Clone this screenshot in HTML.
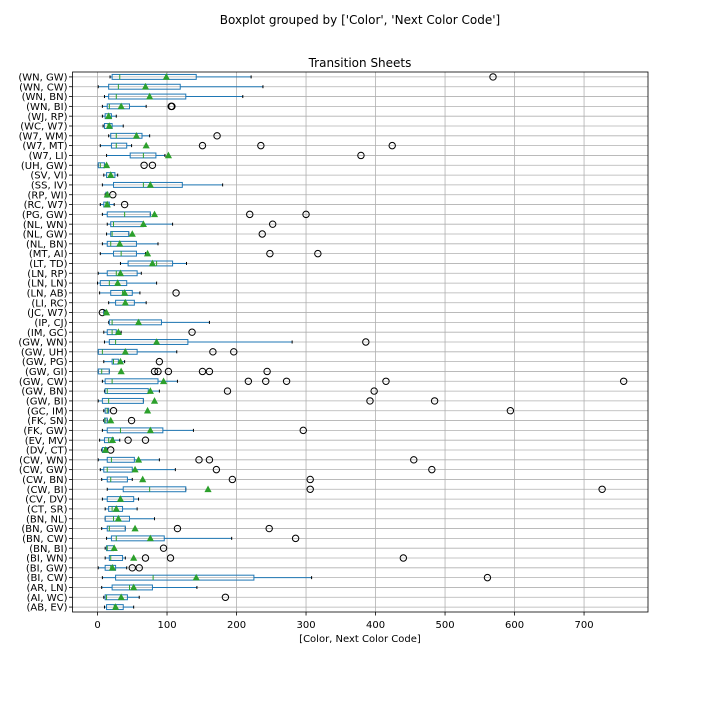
<!DOCTYPE html>
<html><head><meta charset="utf-8"><style>
body{margin:0;background:#fff;font-family:"DejaVu Sans","Liberation Sans",sans-serif}
</style></head><body>
<svg id="chart" width="720" height="720" xmlns="http://www.w3.org/2000/svg" font-family="DejaVu Sans, Liberation Sans, sans-serif">
<rect width="720" height="720" fill="#fff"/>
<text x="360" y="24" text-anchor="middle" font-size="12">Boxplot grouped by ['Color', 'Next Color Code']</text>
<text x="360" y="67" text-anchor="middle" font-size="12">Transition Sheets</text>
<text x="360" y="642" text-anchor="middle" font-size="10">[Color, Next Color Code]</text>
<g id="grid"></g><g id="marks"></g><g id="axes"></g>
</svg>
<script>
const cats=["(WN, GW)","(WN, CW)","(WN, BN)","(WN, BI)","(WJ, RP)","(WC, W7)","(W7, WM)","(W7, MT)","(W7, LI)","(UH, GW)","(SV, VI)","(SS, IV)","(RP, WI)","(RC, W7)","(PG, GW)","(NL, WN)","(NL, GW)","(NL, BN)","(MT, AI)","(LT, TD)","(LN, RP)","(LN, LN)","(LN, AB)","(LI, RC)","(JC, W7)","(IP, CJ)","(IM, GC)","(GW, WN)","(GW, UH)","(GW, PG)","(GW, GI)","(GW, CW)","(GW, BN)","(GW, BI)","(GC, IM)","(FK, SN)","(FK, GW)","(EV, MV)","(DV, CT)","(CW, WN)","(CW, GW)","(CW, BN)","(CW, BI)","(CV, DV)","(CT, SR)","(BN, NL)","(BN, GW)","(BN, CW)","(BN, BI)","(BI, WN)","(BI, GW)","(BI, CW)","(AR, LN)","(AI, WC)","(AB, EV)"];
const lo=[18,1,10,7,7,8,16,4,13,1,9,7,11,4,7,14,13,7,4,33,1,0,3,16,9,16,9,10,1,9,1,7,10,1,9,9,7,3,6,1,4,6,14,7,11,11,6,13,11,11,1,7,6,9,10];
const q1=[21,16,16,14,11,10,19,20,47,1,13,23,12,9,14,19,19,14,23,44,14,4,19,26,9,17,14,17,1,21,1,11,11,7,11,10,14,10,7,14,9,14,37,14,16,11,14,20,13,17,11,26,21,11,13];
const med=[32,30,27,17,15,15,27,27,66,4,19,66,14,12,39,23,21,19,34,85,27,17,36,39,10,21,21,26,7,23,6,21,14,16,14,11,33,16,10,20,14,19,75,32,21,23,17,27,14,19,19,80,46,13,24];
const q3=[142,119,127,46,20,21,64,42,84,10,25,122,15,17,76,66,45,56,56,108,57,42,50,53,11,92,27,130,57,30,17,87,73,66,16,14,94,23,14,53,50,43,127,52,36,46,40,96,23,36,26,225,79,43,37];
const hi=[221,238,209,70,27,37,75,49,97,10,29,180,15,24,76,108,45,87,69,128,63,85,61,70,12,161,34,280,114,39,17,115,89,66,16,14,138,32,14,89,112,50,127,59,57,82,40,193,23,40,42,308,143,60,52];
const means=[99,69,75,34,16,17,56,70,102,13,19,76,14,14,82,66,50,32,72,79,33,29,39,40,13,59,30,85,40,33,34,95,76,82,72,19,76,21.5,11.5,59,54,65,159,33,27,30,54,76,24,52,21.5,142,52,34,26];
const outliers=[[569],[],[],[107,106],[],[],[172],[151,235,424],[379],[67,79],[],[],[22],[39],[219,300],[252],[237],[],[248,317],[],[],[],[113],[],[7],[],[136],[386],[166,196],[89],[82,87,102,151,161,244],[217,242,272,415,757],[187,398],[392,485],[23,594],[49],[296],[44,69],[19],[146,161,455],[171,481],[194,306],[306,726],[],[],[],[115,247],[285],[95],[69,105,440],[50,60],[561],[],[184],[]];
const xticks=[0,100,200,300,400,500,600,700];

const L=72.5,R=648,T=72,B=612,XMIN=-36,XMAX=792;
const sx=v=>L+(v-XMIN)/(XMAX-XMIN)*(R-L);
const rowH=(B-T)/cats.length;
const sy=i=>T+(i+0.5)*rowH;
const NS="http://www.w3.org/2000/svg";
function mk(tag,attrs,parent){const e=document.createElementNS(NS,tag);for(const k in attrs)e.setAttribute(k,attrs[k]);parent.appendChild(e);return e;}
const grid=document.getElementById('grid'),marks=document.getElementById('marks'),axes=document.getElementById('axes');
xticks.forEach(t=>{const x=sx(t);
 const g=mk('line',{x1:x,x2:x,y1:T,y2:B,stroke:'#b0b0b0','stroke-width':0.8},grid);
 
 
 const tk=mk('line',{x1:x,x2:x,y1:B,y2:B+3.5,stroke:'#000','stroke-width':0.8},axes);
 
 
 const tl=mk('text',{x:x,y:B+16,'text-anchor':'middle','font-size':10},axes);tl.textContent=t;
 
 
});
cats.forEach((c,i)=>{const y=sy(i);
 const g=mk('line',{x1:L,x2:R,y1:y,y2:y,stroke:'#b0b0b0','stroke-width':0.8},grid);
 
 
 const tk=mk('line',{x1:L-3.5,x2:L,y1:y,y2:y,stroke:'#000','stroke-width':0.8},axes);
 
 
 const tl=mk('text',{x:L-5,y:y+3.6,'text-anchor':'end','font-size':10},axes);tl.textContent=c;
 
 
 const g2=mk('g',{},marks);
 
 
 const h=rowH*0.25;
 mk('line',{x1:sx(lo[i]),x2:sx(q1[i]),y1:y,y2:y,stroke:'#1f77b4','stroke-width':1},g2);
 mk('line',{x1:sx(q3[i]),x2:sx(hi[i]),y1:y,y2:y,stroke:'#1f77b4','stroke-width':1},g2);
 mk('line',{x1:sx(lo[i]),x2:sx(lo[i]),y1:y-1.5,y2:y+1.5,stroke:'#000','stroke-width':1},g2);
 mk('line',{x1:sx(hi[i]),x2:sx(hi[i]),y1:y-1.5,y2:y+1.5,stroke:'#000','stroke-width':1},g2);
 mk('rect',{x:sx(q1[i]),y:y-h,width:Math.max(0.5,sx(q3[i])-sx(q1[i])),height:2*h,fill:'none',stroke:'#1f77b4','stroke-width':1},g2);
 mk('line',{x1:sx(med[i]),x2:sx(med[i]),y1:y-h,y2:y+h,stroke:'#2ca02c','stroke-width':1},g2);
 outliers[i].forEach(o=>{const cc=mk('circle',{cx:sx(o),cy:y,r:3.2,fill:'none',stroke:'#000','stroke-width':1},g2);
  
  });
 const mx=sx(means[i]);
 const tri=mk('polygon',{points:`${mx},${y-3.8} ${mx-3.6},${y+2.8} ${mx+3.6},${y+2.8}`,fill:'#2ca02c'},g2);
 
 
});
const fr=mk('rect',{x:L,y:T,width:R-L,height:B-T,fill:'none',stroke:'#000','stroke-width':0.8},axes);


</script>
</body></html>
